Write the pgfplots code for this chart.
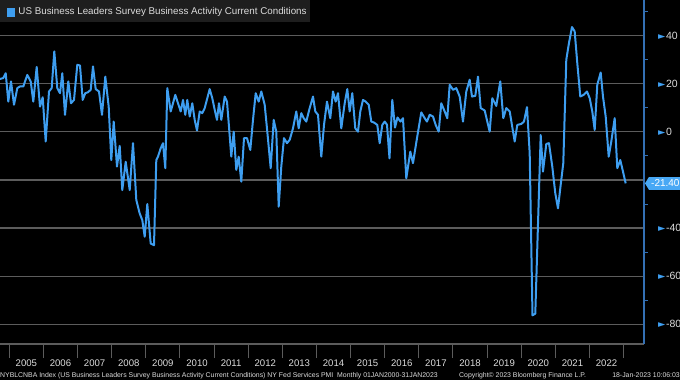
\documentclass[border=0pt]{standalone}
\usepackage{pgfplots}
\pgfplotsset{compat=1.18}
\usepackage{pgfplotstable}
\usepackage{fontspec}
\setmainfont{Liberation Sans}
\newfontfamily\dejavu{DejaVu Sans}
\definecolor{lineblue}{RGB}{62,158,240}
\definecolor{tagblue}{RGB}{72,168,245}
\definecolor{gridgray}{RGB}{92,92,92}
\definecolor{axisblue}{RGB}{52,112,180}
\definecolor{txtgray}{RGB}{220,220,220}
\definecolor{boxgray}{RGB}{30,30,30}

% px = horizontal position (pixels), v = index value
\pgfplotstableread{
px v
0 22
3.3 22.4
5.7 24.4
8.3 12.6
11 21
14 11.3
17.3 18.2
20 18.9
23.3 18.9
27.3 23.7
30.7 21
33.3 12.6
36.7 27
40 10.5
42.7 14.4
45.7 -4
49 16.8
51.7 18.2
54.3 33.5
57.3 18.2
60 16.1
62.3 24.4
65 7.1
68.3 21
71 11.9
74 13.3
77.3 27.9
80 27.6
82.7 13.3
85.3 16.1
88 16.5
90.7 17.5
93 27.2
95.7 17.8
99 16.8
102 7.1
105.3 23
108.7 10.5
111.3 -11.7
113.7 4.3
117 -14.4
119.7 -5.8
122.3 -24.2
125.7 -12.4
129.7 -24.2
133 -4.7
136.3 -28.3
139.7 -33.9
142.3 -36.7
144.7 -43.6
147.3 -30
150.7 -46.4
154 -47.1
156.3 -11.7
158 -10.3
160.7 -6.8
163 -4.7
165.3 -15.1
167.3 18.2
170.7 8.5
173 11.9
175.3 15.4
178 11.9
180.7 8.5
183 13.3
185.3 7.1
187.3 13.3
189.7 6.4
192.3 11.9
194.7 5
197 0.6
199.7 8.5
202.3 7.8
204.7 9.9
207.3 14
209.7 17.8
212.3 14
214.7 9.2
217 5
219 11.9
221.3 5
224.7 14.7
227 12.6
229 2.2
231.3 -10.3
233.7 0.1
236.3 -15.8
238.7 -10.3
241.3 -20.7
244 -2.6
247 -2.6
250.3 -7.5
253 5
255.7 16.1
258.7 12.6
261.3 16.8
264.7 11.3
267.3 0.1
270.7 -15.1
273.7 5
276.3 0.1
278.7 -31.1
281.3 -14.4
284 -2.6
287 -4.7
289.7 -3.3
293 1.5
296.3 8.5
298.7 1.5
301.3 7.8
303.7 5.7
306.3 4.3
309.7 9.9
313 14.7
315.3 8.5
318 7.1
321.3 -10.3
324 2.9
327 12.6
330.3 5.7
333 16.8
335.7 12.6
338 16.1
341.3 1.5
344.7 11.9
347.3 17.8
349.7 8.5
352.3 16.1
355.3 1.5
358 0.1
360.3 8.5
363 13.3
365.7 12.6
368.7 11.3
371.3 4.3
374 3.9
377.3 2.9
379.7 -4.7
382.3 2.9
384.7 4.3
387 3
389.5 -11
392.3 13.3
395 1.8
397.5 6
400.5 4.3
403 5.7
406.3 -19.3
410.3 -8.2
413 -13
417 -2.6
421.3 8.1
424.7 5.7
427 4.3
429.7 7.1
433 6.4
435.7 2.9
438.7 0.1
441.3 11.9
444.7 8.5
447.3 5.7
449.7 19.6
453 17.5
456.3 18.2
459.7 14.7
463 4.3
466.3 16.8
469.7 21.7
472 14.7
475.3 15
478 23
480.7 9.9
484.7 8.9
489.7 0.1
492.3 14
496.3 10.8
500.3 21
503.3 5.7
506.3 9.9
509.7 8.5
514.7 -4
517.3 2.9
521.3 3.3
524 4.3
527 10.3
529.7 -8.9
532.5 -76.3
535.3 -75.6
540.7 -1.3
543 -16.5
546.3 -5
549 -4.7
552.3 -14.4
555.3 -25.5
558 -31.8
560.7 -22
563.3 -13
566.3 30
569 37
572 43.6
574.7 41.8
577.3 28.6
580.3 14.7
583.7 15.4
587 16.8
589.7 14
592.3 8.5
594.7 0.8
597.3 19.6
600.7 24.7
603 14.7
605.7 6.4
608.7 -10.3
611.3 -4
614.7 5.7
617.3 -15.1
620.3 -11.7
623 -16.5
625.7 -21.4
}\datatable

\newcommand\tri{{\dejavu\fontsize{9.5bp}{9.5bp}\selectfont\color{lineblue}\raisebox{0.2bp}{►}}\hspace{0.6bp}}

\begin{document}
\begin{tikzpicture}
\fill[black] (0bp,0bp) rectangle (680bp,380bp);
\useasboundingbox (0bp,0bp) rectangle (680bp,380bp);
% legend box
\fill[boxgray] (0bp,358.3bp) rectangle (310bp,380bp);
\fill[lineblue] (6.7bp,363.3bp) rectangle (15bp,371.7bp);
\node[anchor=west, inner sep=0pt, text=txtgray, font=\fontsize{9.8bp}{11bp}\selectfont] at (18.3bp,367.9bp) {US Business Leaders Survey Business Activity Current Conditions};

% minor y ticks
\begin{axis}[at={(0bp,36bp)}, anchor=south west, scale only axis, width=644bp, height=344bp,
  xmin=0, xmax=1, ymin=-88.2, ymax=54.85,
  hide x axis, axis y line*=right, y axis line style={draw=none},
  ytick={-70,-50,-30,-10,10,30,50}, yticklabels={},
  major tick length=3.5bp, tick align=outside,
  ytick style={draw=axisblue, line width=1bp}]
\addplot[draw=none] coordinates {(0.5,0)};
\end{axis}

\begin{axis}[at={(0bp,36bp)}, anchor=south west, scale only axis, width=644bp, height=344bp,
  xmin=2004.7275, xmax=2023.597, ymin=-88.2, ymax=54.85,
  axis x line*=bottom, axis y line*=right,
  x axis line style={draw=gridgray, line width=1.3bp, -},
  y axis line style={draw=axisblue, line width=1.3bp, -},
  xtick={2005,2006,...,2023}, xticklabels={},
  major tick length=14bp, tick align=outside,
  xtick style={draw=gridgray, line width=1bp},
  xticklabel style={text=txtgray, font=\fontsize{9.6bp}{10bp}\selectfont},
  extra x ticks={2005.5,2006.5,2007.5,2008.5,2009.5,2010.5,2011.5,2012.5,2013.5,2014.5,2015.5,2016.5,2017.5,2018.5,2019.5,2020.5,2021.5,2022.5},
  extra x tick labels={2005,2006,2007,2008,2009,2010,2011,2012,2013,2014,2015,2016,2017,2018,2019,2020,2021,2022},
  extra x tick style={major tick length=0pt, xticklabel style={yshift=-12bp}},
  ytick={-80,-60,-40,-20,0,20,40},
  yticklabels={\tri-80,\tri-60,\tri-40,,\tri0,\tri20,\tri40},
  ytick style={draw=none},
  ymajorgrids, grid style={draw=gridgray, line width=1.2bp},
  yticklabel style={text=txtgray, font=\fontsize{10.5bp}{11bp}\selectfont, anchor=west, inner sep=0pt, xshift=0bp},
]
\addplot[lineblue, line width=2bp, line join=round] table[x expr={2005+(\thisrow{px}-9.3)/34.13}, y=v] {\datatable};
\coordinate (tag) at (axis cs:2023.597,-21.4);
\end{axis}

% last value tag
\fill[tagblue] ([xshift=1bp]tag) -- ++(4bp,6.5bp) -- ++(0bp,-13bp) -- cycle;
\node[fill=tagblue, text=white, anchor=west, inner xsep=2bp, inner ysep=0pt, minimum height=13bp, font=\fontsize{10bp}{11bp}\selectfont] at ([xshift=5bp]tag) {-21.40};

% footer
\node[anchor=base west, inner sep=0pt, text=txtgray, font=\fontsize{6.9bp}{7bp}\selectfont] at (0bp,3bp) {NYBLCNBA Index (US Business Leaders Survey Business Activity Current Conditions) NY Fed Services PMI\ \ Monthly 01JAN2000-31JAN2023};
\node[anchor=base west, inner sep=0pt, text=txtgray, font=\fontsize{6.9bp}{7bp}\selectfont] at (459bp,3bp) {Copyright© 2023 Bloomberg Finance L.P.};
\node[anchor=base east, inner sep=0pt, text=txtgray, font=\fontsize{6.9bp}{7bp}\selectfont] at (680bp,3bp) {18-Jan-2023 10:06:03};
\end{tikzpicture}
\end{document}
